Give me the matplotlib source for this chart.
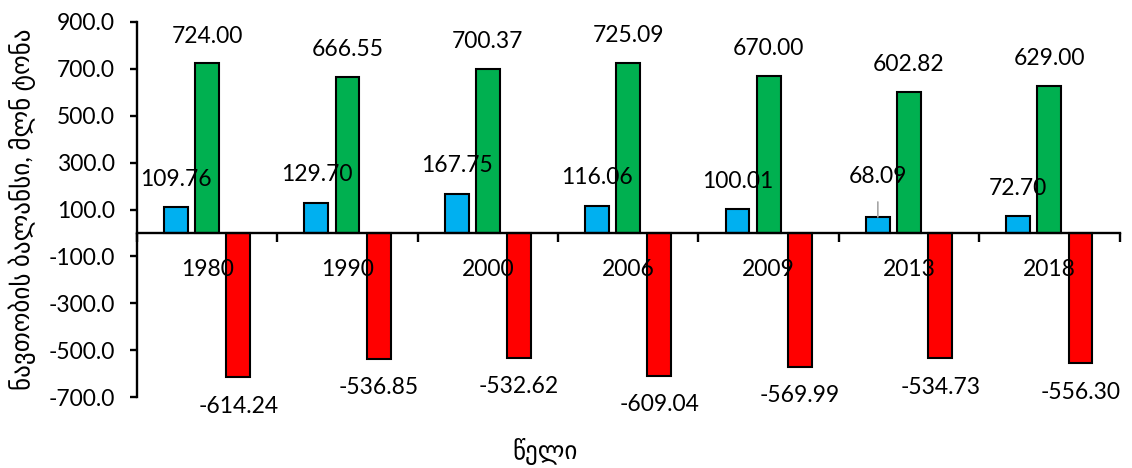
import matplotlib.pyplot as plt
import numpy as np

plt.rcParams['font.family'] = ['Lato', 'DejaVu Sans']

years = ['1980', '1990', '2000', '2006', '2009', '2013', '2018']
blue_vals = [109.76, 129.70, 167.75, 116.06, 100.01, 68.09, 72.70]
green_vals = [724.00, 666.55, 700.37, 725.09, 670.00, 602.82, 629.00]
red_vals = [-614.24, -536.85, -532.62, -609.04, -569.99, -534.73, -556.30]

ylabel = 'ნავთობის ბალანსი, მლნ ტონა'
xlabel = 'წელი'

fig = plt.figure(figsize=(11.32, 4.68), dpi=100)
ax = fig.add_axes([0.121, 0.1517, 0.868, 0.8013])

x = np.arange(len(years))
step = 0.222
width = 0.17
edge = dict(edgecolor='black', linewidth=1.5, zorder=3)

ax.bar(x - step, blue_vals, width, color='#00B0F0', **edge)
ax.bar(x, green_vals, width, color='#00B050', **edge)
ax.bar(x + step, red_vals, width, color='#FF0000', **edge)

fs = 16.5
# blue labels (the 2013 one sits higher, with a leader line)
raised = {5: 13}
for i, v in enumerate(blue_vals):
    off = 20 + raised.get(i, 0) * 0.72
    arrow = None
    if i in raised:
        arrow = dict(arrowstyle='-', color='#A6A6A6', lw=1.2,
                     shrinkA=9, shrinkB=0)
    ax.annotate(f'{v:.2f}', xy=(x[i] - step, v), xytext=(0, off),
                textcoords='offset points', ha='center', va='center',
                fontsize=fs, zorder=5, arrowprops=arrow)
for i, v in enumerate(green_vals):
    ax.annotate(f'{v:.2f}', xy=(x[i], v), xytext=(0, 19.5),
                textcoords='offset points', ha='center', va='center',
                fontsize=fs, zorder=5)
for i, v in enumerate(red_vals):
    ax.annotate(f'{v:.2f}', xy=(x[i] + step, v), xytext=(0, -21),
                textcoords='offset points', ha='center', va='center',
                fontsize=fs, zorder=5)
# category labels just under the zero line
for i, yr in enumerate(years):
    ax.annotate(yr, xy=(x[i], 0), xytext=(0, -26), textcoords='offset points',
                ha='center', va='center', fontsize=fs, zorder=5)

ax.set_xlim(-0.5, len(years) - 0.5)
ax.set_ylim(-700, 900)
ticks = np.arange(-700, 901, 200)
ax.set_yticks(ticks)
ax.set_yticklabels([f'{t:.1f}' for t in ticks])
ax.set_xticks(np.arange(-0.5, len(years), 1.0))
ax.set_xticklabels([])

for s in ['top', 'right']:
    ax.spines[s].set_visible(False)
ax.spines['bottom'].set_position(('data', 0))
ax.spines['bottom'].set_linewidth(1.7)
ax.spines['left'].set_linewidth(1.7)
ax.spines['bottom'].set_zorder(4)
ax.tick_params(axis='y', direction='out', length=5, width=1.7,
               labelsize=fs, pad=11)
ax.tick_params(axis='x', direction='out', length=6.5, width=1.7)

ax.set_ylabel(ylabel, fontsize=18)
ax.yaxis.set_label_coords(-0.117, 0.5)
ax.yaxis.label.set_va('center')
ax.set_xlabel(xlabel, fontsize=18)
ax.xaxis.set_label_coords(0.415, -0.144)
ax.xaxis.label.set_va('center')

fig.savefig('out.png', dpi=100)
